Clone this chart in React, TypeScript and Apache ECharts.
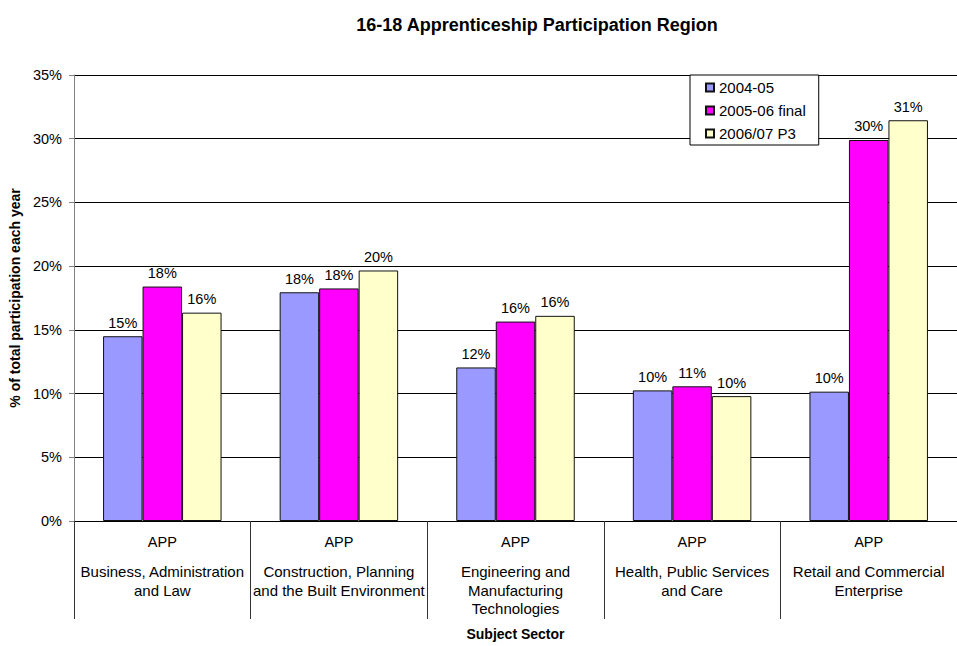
import React, { useEffect, useRef } from "react";
import * as echarts from "echarts";

const categoryLines: string[][] = [
  ["Business, Administration", "and Law"],
  ["Construction, Planning", "and the Built Environment"],
  ["Engineering and", "Manufacturing", "Technologies"],
  ["Health, Public Services", "and Care"],
  ["Retail and Commercial", "Enterprise"],
];
const categories = categoryLines.map((l) => l.join(" "));
const groupLabel = "APP";

const seriesNames = ["2004-05", "2005-06 final", "2006/07 P3"];
const values2004 = [14.5, 17.95, 12.05, 10.25, 10.15];
const values2005 = [18.4, 18.25, 15.65, 10.57, 29.9];
const values2006 = [16.35, 19.66, 16.1, 9.8, 31.45];
const seriesColors = ["#9999FF", "#FF00FF", "#FFFFCC"];
const yTicks = [0, 5, 10, 15, 20, 25, 30, 35];

const FONT = "Liberation Sans, Arial, sans-serif";

export default function App() {
  const ref = useRef<HTMLDivElement>(null);
  useEffect(() => {
    if (!ref.current) return;
    const chart = echarts.init(ref.current, null, { renderer: "svg" });
    const allValues = [values2004, values2005, values2006];
    chart.setOption({
      animation: false,
      backgroundColor: "#ffffff",
      textStyle: { fontFamily: FONT },
      title: {
        text: "16-18 Apprenticeship Participation Region",
        left: 532,
        top: 11,
        textAlign: "center",
        textStyle: { fontFamily: FONT, fontSize: 18, fontWeight: "bold", color: "#000" },
      },
      legend: {
        orient: "vertical",
        left: 690,
        top: 75,
        padding: [5, 13, 4, 15],
        itemGap: 8,
        itemWidth: 8,
        itemHeight: 8,
        icon: "rect",
        borderColor: "#000",
        borderWidth: 1,
        backgroundColor: "#fff",
        textStyle: { fontFamily: FONT, fontSize: 15, color: "#000" },
        data: seriesNames,
      },
      grid: { left: 74, top: 75, width: 893, height: 447, containLabel: false },
      xAxis: {
        type: "category",
        data: categories,
        axisLine: { lineStyle: { color: "#000", width: 1 } },
        axisTick: { show: true, length: 98, lineStyle: { color: "#333" } },
        axisLabel: {
          margin: 0,
          interval: 0,
          color: "#000",
          fontFamily: FONT,
          fontSize: 15,
          formatter: (_v: string, idx: number) => {
            const lines = categoryLines[idx].map((l) => `{b|${l}}`).join("\n");
            return `{a|${groupLabel}}\n${lines}`;
          },
          rich: {
            a: { fontFamily: FONT, fontSize: 14.5, color: "#000", lineHeight: 41.5 },
            b: { fontFamily: FONT, fontSize: 15, color: "#000", lineHeight: 18.5 },
          },
        },
        name: "Subject Sector",
        nameLocation: "middle",
        nameGap: 106,
        nameTextStyle: { fontFamily: FONT, fontSize: 14, fontWeight: "bold", color: "#000" },
      },
      yAxis: {
        type: "value",
        min: 0,
        max: 35,
        interval: 5,
        axisLine: { show: true, lineStyle: { color: "#808080", width: 1 } },
        axisTick: { show: true, length: 5, lineStyle: { color: "#808080" } },
        axisLabel: {
          margin: 12,
          color: "#000",
          fontFamily: FONT,
          fontSize: 14.5,
          formatter: (v: number) => (yTicks.includes(v) ? `${v}%` : ""),
        },
        splitLine: { show: true, lineStyle: { color: "#000", width: 1 } },
        name: "% of total participation each year",
        nameLocation: "middle",
        nameGap: 47,
        nameTextStyle: { fontFamily: FONT, fontSize: 14, fontWeight: "bold", color: "#000" },
      },
      series: seriesNames.map((name, i) => ({
        name,
        type: "bar",
        data: allValues[i],
        barWidth: 39.5,
        barGap: "0%",
        itemStyle: { color: seriesColors[i], borderColor: "#111", borderWidth: 1 },
        label: {
          show: true,
          position: "top",
          distance: 6,
          color: "#000",
          fontFamily: FONT,
          fontSize: 14.5,
          formatter: (p: any) => `${Math.round(p.value)}%`,
        },
      })),
    });
    return () => chart.dispose();
  }, []);
  return (
    <div
      style={{
        position: "fixed",
        left: 0,
        top: 0,
        width: 957,
        height: 646,
        overflow: "hidden",
        background: "#fff",
      }}
    >
      <div ref={ref} style={{ width: 957, height: 646, overflow: "hidden" }} />
    </div>
  );
}
